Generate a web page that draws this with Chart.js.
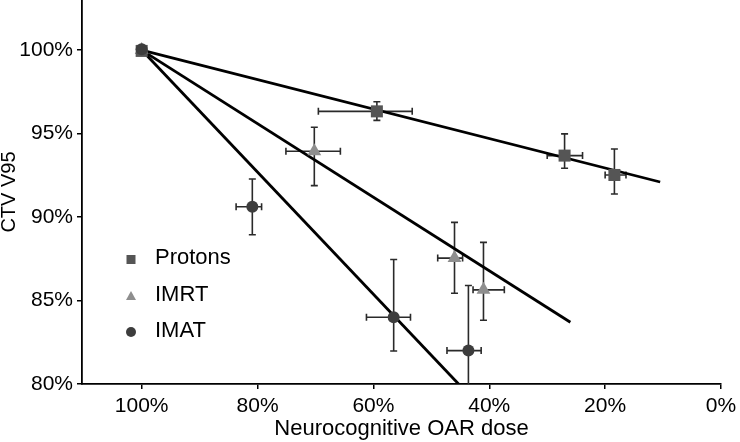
<!DOCTYPE html>
<html>
<head>
<meta charset="utf-8">
<script src="https://cdn.jsdelivr.net/npm/chart.js@4.4.1/dist/chart.umd.min.js"></script>
<style>
  html, body { margin: 0; padding: 0; background: #fff; }
</style>
</head>
<body>
<canvas id="grafico" width="740" height="442"></canvas>
<script>
// tick labels
var xTicks = [100, 80, 60, 40, 20, 0];
var yTicks = [80, 85, 90, 95, 100];

// Protons
var protonsDose = [100, 59.4, 27.0, 18.4];
var protonsV95 = [99.95, 96.33, 93.68, 92.52];
var protonsDoseErrHi = [0, 10.1, 3.0, 1.6];
var protonsDoseErrLo = [0, 6.1, 3.1, 2.0];
var protonsV95ErrHi = [0, 0.58, 1.3, 1.56];
var protonsV95ErrLo = [0, 0.54, 0.76, 1.14];

// IMRT
var imrtDose = [100, 70.2, 46.0, 41.0];
var imrtV95 = [100, 93.94, 87.54, 85.64];
var imrtDoseErrHi = [0, 4.9, 2.9, 1.8];
var imrtDoseErrLo = [0, 4.5, 1.4, 3.6];
var imrtV95ErrHi = [0, 1.44, 2.14, 2.84];
var imrtV95ErrLo = [0, 2.06, 2.1, 1.82];

// IMAT
var imatDose = [100, 80.9, 56.5, 43.6];
var imatV95 = [100.05, 90.62, 84.0, 82.0];
var imatDoseErrHi = [0, 2.8, 4.7, 3.7];
var imatDoseErrLo = [0, 1.6, 2.9, 2.2];
var imatV95ErrHi = [0, 1.66, 3.46, 3.9];
var imatV95ErrLo = [0, 1.68, 2.02, 2.5];

// fitted lines (start / end)
var protonsFitDose = [100, 10.5];
var protonsFitV95 = [100, 92.1];
var imrtFitDose = [100, 26.0];
var imrtFitV95 = [100, 83.7];
var imatFitDose = [100, 45.3];
var imatFitV95 = [100, 80];

var FONTE = '"Liberation Sans", Arial, Helvetica, sans-serif';

function pontos(xs, ys) {
	return xs.map(function(x, i) { return { x: x, y: ys[i] }; });
}

var barrasErro = {
	id: 'barrasErro',
	beforeDatasetsDraw: function(chart) {
		var ctx = chart.ctx, xs = chart.scales.x, ys = chart.scales.y, area = chart.chartArea;
		ctx.save();
		ctx.beginPath();
		ctx.rect(area.left, area.top, area.right - area.left, area.bottom - area.top);
		ctx.clip();
		ctx.strokeStyle = '#2a2a2a';
		ctx.lineWidth = 1.6;
		chart.data.datasets.forEach(function(ds) {
			if (!ds.erros) return;
			var e = ds.erros;
			ds.data.forEach(function(p, i) {
				var px = xs.getPixelForValue(p.x), py = ys.getPixelForValue(p.y);
				var cap = 3.5;
				if (e.xHi[i] || e.xLo[i]) {
					var x1 = xs.getPixelForValue(p.x + e.xHi[i]);
					var x2 = xs.getPixelForValue(p.x - e.xLo[i]);
					ctx.beginPath();
					ctx.moveTo(x1, py); ctx.lineTo(x2, py);
					ctx.moveTo(x1, py - cap); ctx.lineTo(x1, py + cap);
					ctx.moveTo(x2, py - cap); ctx.lineTo(x2, py + cap);
					ctx.stroke();
				}
				if (e.yHi[i] || e.yLo[i]) {
					var y1 = ys.getPixelForValue(p.y + e.yHi[i]);
					var y2 = ys.getPixelForValue(p.y - e.yLo[i]);
					ctx.beginPath();
					ctx.moveTo(px, y1); ctx.lineTo(px, y2);
					ctx.moveTo(px - cap, y1); ctx.lineTo(px + cap, y1);
					ctx.moveTo(px - cap, y2); ctx.lineTo(px + cap, y2);
					ctx.stroke();
				}
			});
		});
		ctx.restore();
	}
};

var legendaETitulos = {
	id: 'legendaETitulos',
	afterDraw: function(chart) {
		var ctx = chart.ctx, area = chart.chartArea;
		ctx.save();
		ctx.fillStyle = '#000';
		ctx.font = '22px ' + FONTE;
		ctx.textAlign = 'center';
		ctx.textBaseline = 'middle';
		ctx.fillText('Neurocognitive OAR dose', (area.left + area.right) / 2, 429);
		ctx.save();
		ctx.font = '20px ' + FONTE;
		ctx.translate(9, (area.top + area.bottom) / 2);
		ctx.rotate(-Math.PI / 2);
		ctx.fillText('CTV V95', 0, 0);
		ctx.restore();

		var itens = [
			{ texto: 'Protons', y: 259, cor: '#555555', forma: 'quadrado' },
			{ texto: 'IMRT', y: 296, cor: '#8e8e8e', forma: 'triangulo' },
			{ texto: 'IMAT', y: 332, cor: '#3d3d3d', forma: 'circulo' }
		];
		itens.forEach(function(it) {
			var mx = 131;
			ctx.fillStyle = it.cor;
			ctx.beginPath();
			if (it.forma === 'quadrado') {
				ctx.rect(mx - 4.5, it.y - 4, 9, 9);
			} else if (it.forma === 'triangulo') {
				ctx.moveTo(mx, it.y - 5);
				ctx.lineTo(mx + 5, it.y + 4);
				ctx.lineTo(mx - 5, it.y + 4);
				ctx.closePath();
			} else {
				ctx.arc(mx, it.y, 5, 0, Math.PI * 2);
			}
			ctx.fill();
			ctx.fillStyle = '#000';
			ctx.textAlign = 'left';
			ctx.fillText(it.texto, 155, it.y - 1);
		});
		ctx.restore();
	}
};

function linhaAjuste(xs, ys) {
	return {
		type: 'scatter',
		data: pontos(xs, ys),
		showLine: true,
		borderColor: '#000',
		borderWidth: 2.8,
		pointRadius: 0,
		fill: false,
		clip: 0
	};
}

var grafico = new Chart(document.getElementById('grafico').getContext('2d'), {
	type: 'scatter',
	data: {
		datasets: [{
			label: 'IMAT',
			data: pontos(imatDose, imatV95),
			pointStyle: 'circle',
			pointRadius: 6,
			backgroundColor: '#3d3d3d',
			borderColor: '#3d3d3d',
			borderWidth: 0,
			erros: { xHi: imatDoseErrHi, xLo: imatDoseErrLo, yHi: imatV95ErrHi, yLo: imatV95ErrLo }
		}, {
			label: 'Protons',
			data: pontos(protonsDose, protonsV95),
			pointStyle: 'rect',
			pointRadius: 8.5,
			backgroundColor: '#555555',
			borderColor: '#555555',
			borderWidth: 0,
			erros: { xHi: protonsDoseErrHi, xLo: protonsDoseErrLo, yHi: protonsV95ErrHi, yLo: protonsV95ErrLo }
		}, {
			label: 'IMRT',
			data: pontos(imrtDose, imrtV95),
			pointStyle: 'triangle',
			pointRadius: 8,
			backgroundColor: '#8e8e8e',
			borderColor: '#8e8e8e',
			borderWidth: 0,
			erros: { xHi: imrtDoseErrHi, xLo: imrtDoseErrLo, yHi: imrtV95ErrHi, yLo: imrtV95ErrLo }
		},
		linhaAjuste(protonsFitDose, protonsFitV95),
		linhaAjuste(imrtFitDose, imrtFitV95),
		linhaAjuste(imatFitDose, imatFitV95)]
	},
	options: {
		responsive: false,
		devicePixelRatio: 1,
		animation: false,
		layout: { autoPadding: false, padding: { left: 0, right: 19, top: 0, bottom: -1 } },
		plugins: {
			legend: { display: false },
			tooltip: { enabled: false }
		},
		scales: {
			x: {
				type: 'linear',
				reverse: true,
				min: 0,
				max: 110.3,
				afterFit: function(scale) {
					scale.height = 59;
					scale.paddingLeft = 0;
					scale.paddingRight = 0;
				},
				afterBuildTicks: function(scale) {
					scale.ticks = xTicks.map(function(v) { return { value: v }; });
				},
				ticks: {
					color: '#000',
					padding: 5,
					maxRotation: 0,
					font: { family: FONTE, size: 21 },
					callback: function(v) { return v + '%'; }
				},
				grid: { drawOnChartArea: false, drawTicks: true, tickLength: 5, color: '#000', lineWidth: 1.5 },
				border: { display: true, color: '#000', width: 1.8 }
			},
			y: {
				type: 'linear',
				min: 80,
				max: 103,
				afterFit: function(scale) {
					scale.width = 82;
					scale.paddingTop = 0;
					scale.paddingBottom = 0;
				},
				afterBuildTicks: function(scale) {
					scale.ticks = yTicks.map(function(v) { return { value: v }; });
				},
				ticks: {
					color: '#000',
					padding: 4,
					font: { family: FONTE, size: 21 },
					callback: function(v) { return v + '%'; }
				},
				grid: { drawOnChartArea: false, drawTicks: true, tickLength: 5, color: '#000', lineWidth: 1.5 },
				border: { display: true, color: '#000', width: 1.8 }
			}
		}
	},
	plugins: [barrasErro, legendaETitulos]
});
</script>
</body>
</html>
